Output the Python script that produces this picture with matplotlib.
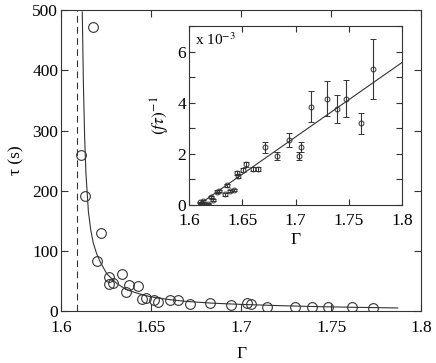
import numpy as np
import matplotlib
matplotlib.use("Agg")
import matplotlib.pyplot as plt

plt.rcParams['font.family'] = ['Liberation Serif', 'DejaVu Serif']
plt.rcParams['mathtext.fontset'] = 'stix'

# main panel: relaxation time tau vs Gamma
gamma = [1.6180, 1.6111, 1.6135, 1.6222, 1.6202, 1.6269, 1.6269, 1.6291, 1.6337,
         1.6361, 1.6380, 1.6426, 1.6448, 1.6472, 1.6518, 1.6540, 1.6606, 1.6648,
         1.6717, 1.6830, 1.6943, 1.7030, 1.7056, 1.7144, 1.7302, 1.7393, 1.7482,
         1.7617, 1.7730]
tau = [472, 259, 191, 130, 82.5, 56.6, 45.7, 47.3, 62.2,
       31.4, 44.0, 41.8, 19.3, 22.0, 18.0, 15.4, 17.6, 17.6,
       11.0, 12.7, 9.4, 12.7, 11.0, 6.1, 6.1, 6.1, 6.1,
       7.1, 4.4]

# fit curve
fit_gamma = [1.6118, 1.6124, 1.6131, 1.6138, 1.6152, 1.6165, 1.6179, 1.6197, 1.6217,
             1.6254, 1.6309, 1.6360, 1.6420, 1.6494, 1.6590, 1.6698, 1.6850,
             1.7013, 1.7220, 1.7439, 1.7650, 1.7870]
fit_tau = [497, 380, 290, 230, 165, 135, 113, 96, 82,
           62, 46, 36, 30, 24, 19.5, 16, 13,
           11, 9, 7.3, 6.2, 5.2]
gamma_c = 1.609

# inset: 1/(f tau) in units of 1e-3
gamma_in = [1.6103, 1.6118, 1.6134, 1.6175, 1.6206, 1.6228, 1.6266, 1.6285, 1.6338,
            1.6357, 1.6385, 1.6426, 1.6447, 1.6463, 1.6509, 1.6535, 1.6597, 1.6644,
            1.6713, 1.6828, 1.6940, 1.7032, 1.7050, 1.7144, 1.7296, 1.7386, 1.7473,
            1.7613, 1.7723]
inv_ftau = [0.09, 0.06, 0.15, 0.04, 0.29, 0.18, 0.51, 0.54, 0.41,
            0.76, 0.54, 0.58, 1.24, 1.13, 1.36, 1.58, 1.39, 1.39,
            2.25, 1.91, 2.54, 1.91, 2.27, 3.84, 4.16, 3.74, 4.16,
            3.19, 5.31]
inv_err = [0.02, 0.02, 0.03, 0.02, 0.04, 0.03, 0.05, 0.05, 0.05,
           0.07, 0.05, 0.05, 0.09, 0.08, 0.09, 0.1, 0.08, 0.08,
           0.22, 0.15, 0.27, 0.15, 0.2, 0.61, 0.7, 0.55, 0.72,
           0.42, 1.18]
line_gamma = [1.609, 1.8]
line_val = [0.0, 5.58]

ink = '#333333'
fs = 12.5

fig = plt.figure(figsize=(4.36, 3.63), dpi=100)
ax = fig.add_axes([0.140, 0.143, 0.826, 0.829])
ax.plot(gamma, tau, 'o', mfc='none', mec=ink, ms=7, mew=0.8)
ax.plot(fit_gamma, fit_tau, '-', color=ink, lw=0.8)
ax.axvline(gamma_c, color=ink, lw=0.8, ls=(0, (6, 4)))
ax.set_xlim(1.6, 1.8)
ax.set_ylim(0, 500)
ax.set_xticks([1.6, 1.65, 1.7, 1.75, 1.8])
ax.set_xticklabels(['1.6', '1.65', '1.7', '1.75', '1.8'])
ax.set_yticks([0, 100, 200, 300, 400, 500])
ax.tick_params(direction='in', top=True, right=True, length=5, width=0.8,
               labelsize=fs, color=ink)
ax.tick_params(axis='y', pad=2)
ax.tick_params(axis='x', pad=6.5)
for s in ax.spines.values():
    s.set_color(ink)
    s.set_linewidth(0.8)
ax.set_xlabel('Γ', fontsize=fs, labelpad=7)
ax.set_ylabel('τ (s)', fontsize=fs, labelpad=6)

ins = fig.add_axes([0.4335, 0.436, 0.489, 0.492])
ins.errorbar(gamma_in, inv_ftau, yerr=inv_err, fmt='o', mfc='none', mec=ink,
             ms=3.5, mew=0.7, ecolor=ink, elinewidth=0.8, capsize=2.5, capthick=0.8)
ins.plot(line_gamma, line_val, '-', color=ink, lw=0.8)
ins.set_xlim(1.6, 1.8)
ins.set_ylim(0, 7)
ins.set_xticks([1.6, 1.65, 1.7, 1.75, 1.8])
ins.set_xticklabels(['1.6', '1.65', '1.7', '1.75', '1.8'])
ins.set_yticks([0, 1, 2, 3, 4, 5, 6, 7])
ins.set_yticklabels(['0', '', '2', '', '4', '', '6', ''])
ins.tick_params(direction='in', top=True, right=True, length=4, width=0.8,
                labelsize=fs, color=ink)
ins.tick_params(axis='y', pad=2)
ins.tick_params(axis='x', pad=6)
for s in ins.spines.values():
    s.set_color(ink)
    s.set_linewidth(0.8)
ins.set_xlabel('Γ', fontsize=fs, labelpad=2)
ins.set_ylabel(r'$(f\tau)^{-1}$', fontsize=fs, labelpad=4)
ins.text(0.03, 0.97, r'x 10$^{-3}$', transform=ins.transAxes, fontsize=11,
         ha='left', va='top')

fig.savefig('out.png', dpi=100)
